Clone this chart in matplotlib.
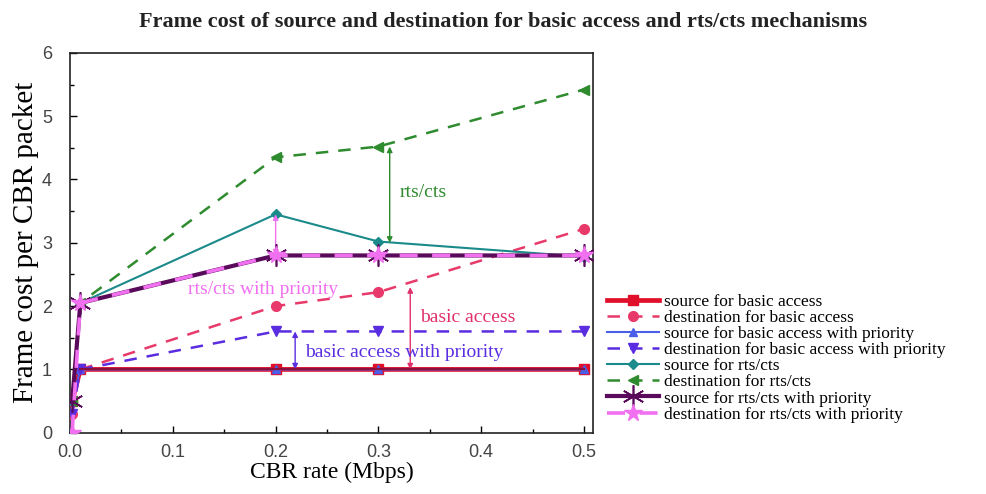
import numpy as np
import matplotlib.pyplot as plt
from matplotlib.ticker import MultipleLocator

SERIF = ['Liberation Serif', 'DejaVu Serif']
SANS = ['Liberation Sans', 'DejaVu Sans']

# CBR rate (Mbps)
cbr_rate = [0.002, 0.01, 0.2, 0.3, 0.5]

# frame cost per CBR packet
src_basic = [0.5, 1.0, 1.0, 1.0, 1.0]
dst_basic = [0.3, 1.0, 2.0, 2.22, 3.22]
src_basic_prio = [0.5, 1.0, 1.0, 1.0, 1.0]
dst_basic_prio = [0.3, 1.0, 1.6, 1.6, 1.6]
src_rts = [0.5, 2.05, 3.45, 3.02, 2.78]
dst_rts = [0.5, 2.05, 4.35, 4.52, 5.42]
src_rts_prio = [0.5, 2.05, 2.8, 2.8, 2.8]
dst_rts_prio = [0.0, 2.05, 2.8, 2.8, 2.8]

labels = [
    'source for basic access',
    'destination for basic access',
    'source for basic access with priority',
    'destination for basic access with priority',
    'source for rts/cts',
    'destination for rts/cts',
    'source for rts/cts with priority',
    'destination for rts/cts with priority',
]

fig = plt.figure(figsize=(9.87, 4.94), dpi=100)
ax = fig.add_axes([0.071, 0.124, 0.530, 0.769])

ax.plot(cbr_rate, src_basic, color='#e0102a', lw=3.4, marker='s', ms=7, label=labels[0], zorder=3)
ax.plot(cbr_rate, dst_basic, color='#e83a6a', lw=1.8, ls=(0, (5, 4)), marker='o', ms=7, label=labels[1], zorder=3)
ax.plot(cbr_rate, src_basic_prio, color='#4a5ee8', lw=1.5, marker='^', ms=6, label=labels[2], zorder=3)
ax.plot(cbr_rate, dst_basic_prio, color='#5a2de0', lw=1.8, ls=(0, (5, 4)), marker='v', ms=7, label=labels[3], zorder=3)
ax.plot(cbr_rate, src_rts, color='#1a8a8a', lw=1.5, marker='D', ms=5.5, label=labels[4], zorder=3)
ax.plot(cbr_rate, dst_rts, color='#2e8b2e', lw=1.8, ls=(0, (5, 4)), marker='<', ms=7, label=labels[5], zorder=3)
ax.plot(cbr_rate, src_rts_prio, color='#5a0a5a', lw=3.0, marker=(6, 2, 0), ms=16, mew=1.2, label=labels[6], zorder=4)
ax.plot(cbr_rate, dst_rts_prio, color='#f070f0', lw=2.6, ls=(0, (5, 4)), marker='*', ms=13, label=labels[7], zorder=4)
# darker core line where the basic access sources coincide
ax.plot(cbr_rate[1:], src_basic[1:], color='#8a1040', lw=1.6, zorder=3.5)

# double-headed arrows marking the gaps between source and destination
arrow = dict(arrowstyle='<|-|>', lw=1.0, mutation_scale=8, shrinkA=0, shrinkB=0)
ax.annotate('', xy=(0.311, 3.0), xytext=(0.311, 4.52), arrowprops=dict(arrow, color='#2e8b2e'))
ax.annotate('', xy=(0.2, 2.8), xytext=(0.2, 3.45), arrowprops=dict(arrow, color='#f070f0'))
ax.annotate('', xy=(0.331, 1.0), xytext=(0.331, 2.3), arrowprops=dict(arrow, color='#e0306a'))
ax.annotate('', xy=(0.219, 1.0), xytext=(0.219, 1.6), arrowprops=dict(arrow, color='#5a2de0'))

ax.text(0.321, 3.8, 'rts/cts', color='#2e8b2e', fontsize=14, family=SERIF, va='center')
ax.text(0.115, 2.26, 'rts/cts with priority', color='#f070f0', fontsize=14, family=SERIF, va='center')
ax.text(0.341, 1.82, 'basic access', color='#e0306a', fontsize=14, family=SERIF, va='center')
ax.text(0.229, 1.26, 'basic access with priority', color='#5a2de0', fontsize=14, family=SERIF, va='center')

ax.set_xlim(0, 0.509)
ax.set_ylim(0, 6)
ax.xaxis.set_major_locator(MultipleLocator(0.1))
ax.xaxis.set_minor_locator(MultipleLocator(0.05))
ax.yaxis.set_major_locator(MultipleLocator(1))
ax.yaxis.set_minor_locator(MultipleLocator(0.5))
ax.tick_params(which='both', direction='in', top=False, right=False)
ax.tick_params(which='major', length=5, width=1, labelsize=13)
ax.tick_params(axis='x', which='major', pad=8)
ax.tick_params(axis='y', which='major', pad=13)
ax.tick_params(which='minor', length=3, width=1)
ax.xaxis.set_major_formatter(plt.FuncFormatter(lambda v, p: f'{v:.1f}'))
for t in ax.get_xticklabels() + ax.get_yticklabels():
    t.set_family(SANS)
    t.set_color('#444444')
for s in ax.spines.values():
    s.set_linewidth(1.2)
    s.set_color('#222222')

ax.set_xlabel('CBR rate (Mbps)', fontsize=17, family=SERIF, labelpad=1)
ax.set_ylabel('Frame cost per CBR packet', fontsize=21, family=SERIF, labelpad=2)
fig.suptitle('Frame cost of source and destination for basic access and rts/cts mechanisms',
             fontsize=16, family=SERIF, fontweight='bold', x=0.51, y=0.975, color='#222222')

handles, lbls = ax.get_legend_handles_labels()
fig.legend(handles, lbls, loc='upper left', bbox_to_anchor=(0.608, 0.42), frameon=False,
           prop={'family': SERIF, 'size': 12.5}, handlelength=3.0, handletextpad=0.3,
           labelspacing=0.0, borderaxespad=0)

fig.savefig('out.png', dpi=100, facecolor='white')
